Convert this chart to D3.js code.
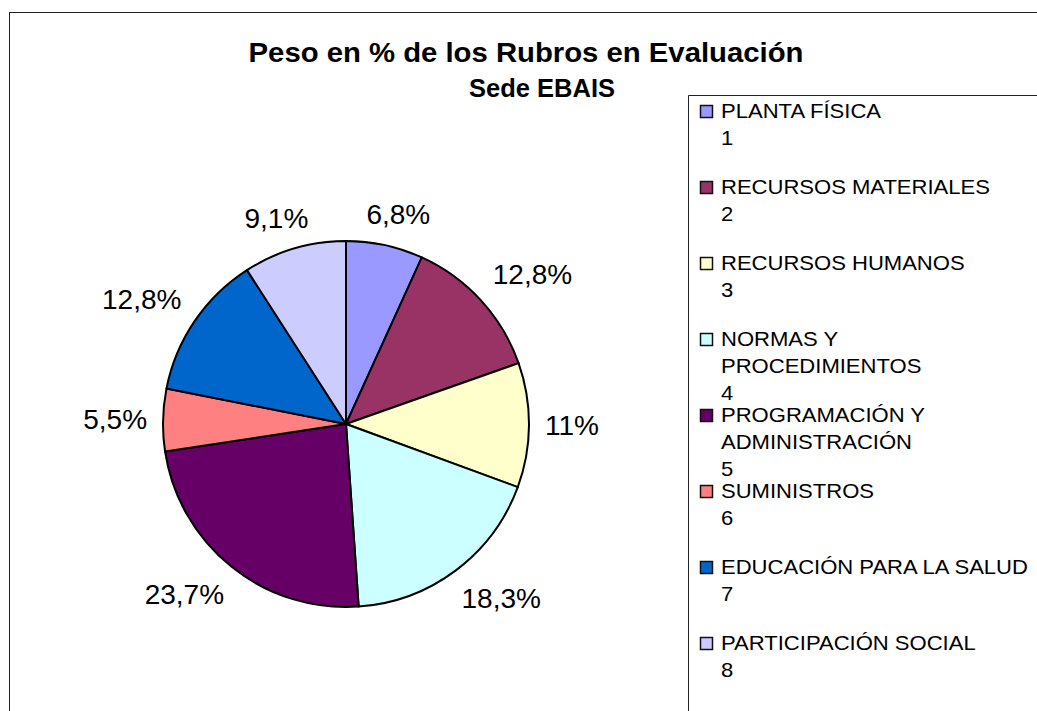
<!DOCTYPE html>
<html>
<head>
<meta charset="utf-8">
<script src="https://cdn.jsdelivr.net/npm/d3@7"></script>
<style>
    body { margin: 0; background: #fff; }
    svg { display: block; font-family: "Liberation Sans", Arial, sans-serif; }
</style>
</head>
<body>
<div class="graph"></div>
<script>
// rubros de la evaluacion, en orden del grafico
const rubros = ["PLANTA FÍSICA", "RECURSOS MATERIALES", "RECURSOS HUMANOS", "NORMAS Y\nPROCEDIMIENTOS",
    "PROGRAMACIÓN Y\nADMINISTRACIÓN", "SUMINISTROS", "EDUCACIÓN PARA LA SALUD", "PARTICIPACIÓN SOCIAL"];
const codigos = ["1", "2", "3", "4", "5", "6", "7", "8"];
const pesos = [6.8, 12.8, 11, 18.3, 23.7, 5.5, 12.8, 9.1];
const colores = ["#9999FF", "#993366", "#FFFFCC", "#CCFFFF", "#660066", "#FF8080", "#0066CC", "#CCCCFF"];
const titulo = "Peso en % de los Rubros en Evaluación";
const subtitulo = "Sede EBAIS";

let width = 1037, height = 711;
let cx = 346, cy = 424, radius = 183;

let svg = d3.select(".graph").append("svg")
    .attr("width", width)
    .attr("height", height);

// marco del grafico
svg.append("rect")
    .attr("x", 9.5).attr("y", 12.5)
    .attr("width", width + 20).attr("height", height + 20)
    .attr("fill", "none").attr("stroke", "#222").attr("stroke-width", 1);

// titulo (la segunda linea va un poco mas chica)
svg.append("text")
    .attr("transform", "translate(526,62) scale(1.085,1)")
    .attr("text-anchor", "middle")
    .style("font-size", "27px")
    .style("font-weight", "bold")
    .text(titulo);

svg.append("text")
    .attr("x", 542).attr("y", 97)
    .attr("text-anchor", "middle")
    .style("font-size", "25.5px")
    .style("font-weight", "bold")
    .text(subtitulo);

let pie = d3.pie().sort(null).value(d => d);
let arcs = pie(pesos);

let arc = d3.arc().innerRadius(0).outerRadius(radius);

let g = svg.append("g").attr("transform", "translate(" + cx + "," + cy + ")");

g.selectAll("path")
    .data(arcs)
    .join("path")
    .attr("d", arc)
    .attr("fill", (d, i) => colores[i])
    .attr("stroke", "#000")
    .attr("stroke-width", 2)
    .attr("stroke-linejoin", "round");

// etiquetas fuera del pastel
let fmt = v => String(v).replace(".", ",") + "%";
let labelR = radius + 16;
let clamp = v => Math.max(-1, Math.min(1, v));

g.selectAll("text.pct")
    .data(arcs)
    .join("text")
    .attr("class", "pct")
    .attr("text-anchor", "middle")
    .attr("dy", "0.35em")
    .style("font-size", "28px")
    .text(d => fmt(d.data))
    .each(function (d) {
        let a = (d.startAngle + d.endAngle) / 2;
        let s = Math.sin(a), c = Math.cos(a);
        let w = this.getComputedTextLength() / 2;
        let h = 15;
        let x = labelR * s + w * clamp(s * 1.5);
        let y = -labelR * c - h * clamp(c * 1.5);
        d3.select(this).attr("x", x).attr("y", y);
    });

// leyenda
svg.append("path")
    .attr("d", "M688.5," + (height + 5) + "V95.5H" + (width + 5))
    .attr("fill", "none")
    .attr("stroke", "#222")
    .attr("stroke-width", 1);

let legend = svg.append("g")
    .selectAll("g")
    .data(rubros)
    .join("g")
    .attr("transform", (d, i) => "translate(0," + (118 + i * 76) + ")");

legend.append("rect")
    .attr("x", 700.5).attr("y", -12.5)
    .attr("width", 12).attr("height", 12)
    .attr("fill", (d, i) => colores[i])
    .attr("stroke", "#111")
    .attr("stroke-width", 1.5);

legend.append("g")
    .attr("transform", "translate(721,0) scale(1.05,1)")
    .selectAll("text")
    .data((d, i) => d.split("\n").concat([codigos[i]]))
    .join("text")
    .attr("x", 0)
    .attr("y", (d, j) => j * 27)
    .style("font-size", "21px")
    .text(d => d);
</script>
</body>
</html>
